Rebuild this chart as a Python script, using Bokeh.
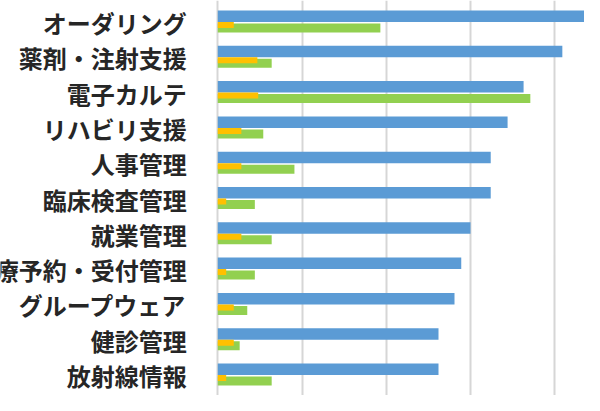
from bokeh.plotting import figure
from bokeh.models import Range1d, Grid, FixedTicker, ColumnDataSource
from bokeh.core.properties import value
from bokeh.embed import file_html
from bokeh.resources import INLINE

categories = ["オーダリング", "薬剤・注射支援", "電子カルテ", "リハビリ支援", "人事管理",
              "臨床検査管理", "就業管理", "診療予約・受付管理", "グループウェア", "健診管理", "放射線情報"]
series_blue = [43.6, 40.9, 36.3, 34.4, 32.4, 32.4, 30.0, 28.9, 28.1, 26.2, 26.2]
series_orange = [1.9, 4.7, 4.8, 2.8, 2.8, 1.0, 2.8, 1.0, 1.9, 1.9, 1.0]
series_green = [19.3, 6.4, 37.1, 5.4, 9.1, 4.4, 6.4, 4.4, 3.5, 2.6, 6.4]
grid_ticks = [0, 10, 20, 30, 40]

idx = list(range(len(categories)))
src = ColumnDataSource(dict(
    pos=idx,
    y_blue=[i - 0.149 for i in idx],
    y_orange=[i + 0.099 for i in idx],
    y_green=[i + 0.184 for i in idx],
    blue=series_blue, orange=series_orange, green=series_green,
    cat=categories, zero=[0] * len(idx),
))

p = figure(width=584, height=395, output_backend="svg", toolbar_location=None,
           x_range=Range1d(-25.79, 43.53), y_range=Range1d(10.595, -0.595),
           x_axis_location=None, y_axis_location=None, min_border=0,
           outline_line_color=None, title=None)
p.background_fill_color = "white"
p.border_fill_color = "white"
for g in p.grid:
    g.visible = False

grid = Grid(dimension=0, ticker=FixedTicker(ticks=grid_ticks),
            grid_line_color="#d6d6d6", grid_line_width=2)
p.add_layout(grid)

p.hbar(y="y_blue", left=0, right="blue", height=0.326, source=src,
       fill_color="#5b9bd5", line_color=None)
p.hbar(y="y_green", left=0, right="green", height=0.255, source=src,
       fill_color="#92d050", line_color=None)
p.hbar(y="y_orange", left=0, right="orange", height=0.17, source=src,
       fill_color="#ffc000", line_color=None)

p.text(x="zero", y="pos", text="cat", source=src, text_align="right",
       text_baseline="middle", x_offset=-31, y_offset=1,
       text_font=value("Noto Sans CJK JP"), text_font_size="24px",
       text_font_style="bold", text_color="#262626")

open("out.html", "w").write(file_html(p, INLINE))
